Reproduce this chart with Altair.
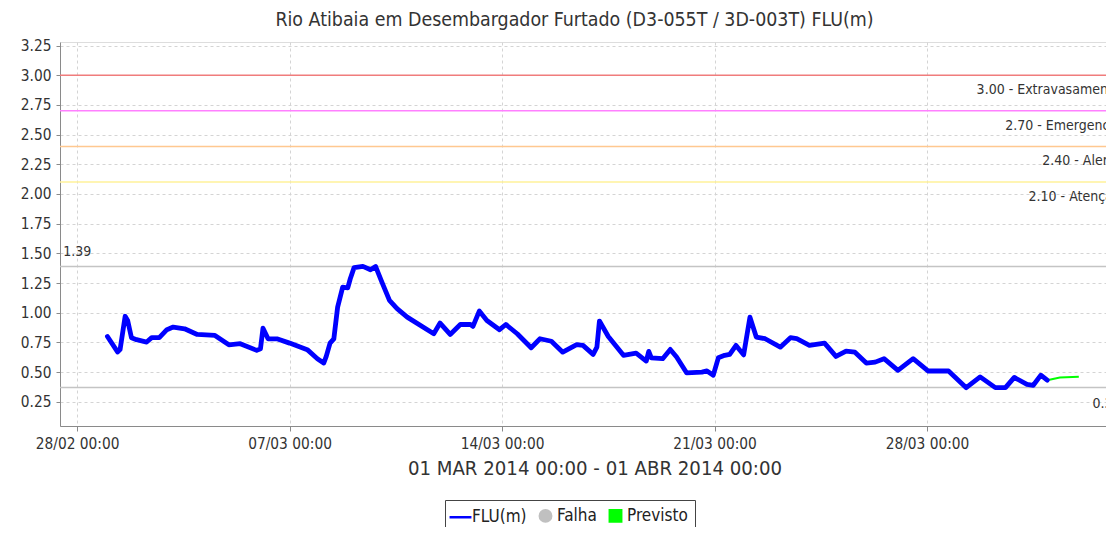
import altair as alt
import pandas as pd

FONT = "DejaVu Sans Condensed, DejaVu Sans"

# ---------------- data ----------------
flu_time = [
    "2014-03-01T00:00", "2014-03-01T08:00", "2014-03-01T10:00", "2014-03-01T14:00", "2014-03-01T16:00",
    "2014-03-01T19:00", "2014-03-01T23:00", "2014-03-02T07:00", "2014-03-02T11:00", "2014-03-02T17:00",
    "2014-03-02T23:00", "2014-03-03T04:00", "2014-03-03T13:00", "2014-03-03T23:00", "2014-03-04T13:00",
    "2014-03-05T00:00", "2014-03-05T09:00", "2014-03-05T22:00", "2014-03-06T01:00", "2014-03-06T03:00",
    "2014-03-06T07:00", "2014-03-06T14:00", "2014-03-07T00:00", "2014-03-07T14:00", "2014-03-07T22:00",
    "2014-03-08T03:00", "2014-03-08T05:00", "2014-03-08T08:00", "2014-03-08T11:00", "2014-03-08T14:00",
    "2014-03-08T18:00", "2014-03-08T22:00", "2014-03-09T00:00", "2014-03-09T03:00", "2014-03-09T10:00",
    "2014-03-09T16:00", "2014-03-09T20:00", "2014-03-10T01:00", "2014-03-10T07:00", "2014-03-10T13:00",
    "2014-03-10T21:00", "2014-03-11T18:00", "2014-03-11T23:00", "2014-03-12T07:00", "2014-03-12T15:00",
    "2014-03-12T23:00", "2014-03-13T01:00", "2014-03-13T06:00", "2014-03-13T12:00", "2014-03-13T22:00",
    "2014-03-14T03:00", "2014-03-14T12:00", "2014-03-14T23:00", "2014-03-15T06:00", "2014-03-15T15:00",
    "2014-03-16T00:00", "2014-03-16T11:00", "2014-03-16T16:00", "2014-03-17T00:00", "2014-03-17T03:00",
    "2014-03-17T05:00", "2014-03-17T12:00", "2014-03-18T00:00", "2014-03-18T10:00", "2014-03-18T18:00",
    "2014-03-18T20:00", "2014-03-18T22:00", "2014-03-19T07:00", "2014-03-19T13:00", "2014-03-19T18:00",
    "2014-03-20T02:00", "2014-03-20T14:00", "2014-03-20T18:00", "2014-03-20T23:00", "2014-03-21T03:00",
    "2014-03-21T08:00", "2014-03-21T12:00", "2014-03-21T17:00", "2014-03-21T23:00", "2014-03-22T04:00",
    "2014-03-22T09:00", "2014-03-22T16:00", "2014-03-23T04:00", "2014-03-23T12:00", "2014-03-23T17:00",
    "2014-03-24T03:00", "2014-03-24T15:00", "2014-03-25T00:00", "2014-03-25T08:00", "2014-03-25T15:00",
    "2014-03-26T00:00", "2014-03-26T07:00", "2014-03-26T14:00", "2014-03-27T01:00", "2014-03-27T13:00",
    "2014-03-28T01:00", "2014-03-28T17:00", "2014-03-29T07:00", "2014-03-29T18:00", "2014-03-30T06:00",
    "2014-03-30T14:00", "2014-03-30T21:00", "2014-03-31T07:00", "2014-03-31T12:00", "2014-03-31T18:00",
    "2014-03-31T23:00",
]
flu_value = [
    0.80, 0.67, 0.69, 0.97, 0.935, 0.79, 0.773, 0.753, 0.79, 0.79,
    0.857, 0.879, 0.865, 0.817, 0.809, 0.73, 0.739, 0.683, 0.697, 0.87,
    0.78, 0.78, 0.744, 0.689, 0.613, 0.576, 0.632, 0.744, 0.78, 1.047,
    1.215, 1.21, 1.286, 1.38, 1.39, 1.362, 1.39, 1.258, 1.104, 1.034,
    0.963, 0.823, 0.913, 0.817, 0.901, 0.901, 0.885, 1.014, 0.935, 0.857,
    0.901, 0.823, 0.705, 0.781, 0.76, 0.668, 0.731, 0.725, 0.649, 0.711,
    0.93, 0.80, 0.641, 0.66, 0.593, 0.674, 0.62, 0.613, 0.691, 0.627,
    0.493, 0.50, 0.51, 0.474, 0.62, 0.641, 0.649, 0.725, 0.645, 0.963,
    0.795, 0.781, 0.71, 0.79, 0.781, 0.725, 0.744, 0.632, 0.677, 0.668,
    0.576, 0.584, 0.613, 0.515, 0.613, 0.509, 0.509, 0.369, 0.46, 0.369,
    0.369, 0.455, 0.397, 0.389, 0.474, 0.432,
]
prev_time = ["2014-03-31T23:00", "2014-04-01T09:00", "2014-04-02T00:00"]
prev_value = [0.432, 0.455, 0.46]

series_names = ["FLU(m)", "Falha", "Previsto"]
series_colors = ["#0000ff", "#c0c0c0", "#00ff00"]

threshold_values = [3.00, 2.70, 2.40, 2.10]
threshold_labels = ["3.00 - Extravasamento", "2.70 - Emergencia", "2.40 - Alerta", "2.10 - Atenção"]
threshold_colors = ["#f07c7c", "#ff80ff", "#ffc890", "#fff29a"]

max_value, max_label = 1.39, "1.39"
min_value, min_label = 0.37, "0.37"

x_ticks = [(2014, 2, 28), (2014, 3, 7), (2014, 3, 14), (2014, 3, 21), (2014, 3, 28)]
y_ticks = [0.25, 0.50, 0.75, 1.00, 1.25, 1.50, 1.75, 2.00, 2.25, 2.50, 2.75, 3.00, 3.25]
right_label_time = "2014-04-03T09:00"
left_label_time = "2014-02-27T13:00"

# ---------------- tables ----------------
flu_df = pd.DataFrame({"t": flu_time, "v": flu_value, "s": "FLU(m)"})
prev_df = pd.DataFrame({"t": prev_time, "v": prev_value, "s": "Previsto"})
thr_df = pd.DataFrame({"v": threshold_values, "label": threshold_labels, "c": threshold_colors,
                       "t": right_label_time})
max_df = pd.DataFrame({"v": [max_value], "label": [max_label], "t": [left_label_time]})
min_df = pd.DataFrame({"v": [min_value], "label": [min_label], "t": [right_label_time]})
ext_df = pd.DataFrame({"v": [max_value, min_value]})

x_scale = alt.Scale(domain=[alt.DateTime(year=2014, month=2, date=27, hours=10, minutes=30),
                            alt.DateTime(year=2014, month=4, date=2, hours=21, minutes=30)])
y_scale = alt.Scale(domain=[0.046, 3.28], nice=False, zero=False)

x_axis = alt.Axis(
    values=[alt.DateTime(year=y, month=m, date=d) for (y, m, d) in x_ticks],
    format="%d/%m %H:%M", labelFont=FONT, labelFontSize=15.3, labelColor="#333",
    title="01 MAR 2014 00:00 - 01 ABR 2014 00:00", titleFont=FONT, titleFontSize=20.2,
    titleFontWeight="normal", titleColor="#333", titlePadding=7, titleX=534.5,
    grid=True, gridDash=[3, 3], gridColor="#d4d4d4", domainColor="#8a8a8a",
    tickColor="#8a8a8a", tickSize=5, labelPadding=5, labelOverlap=False,
)
y_axis = alt.Axis(
    values=y_ticks, format=".2f", labelFont=FONT, labelFontSize=15.3, labelColor="#333",
    title=None, grid=True, gridDash=[3, 3], gridColor="#d4d4d4", domainColor="#8a8a8a",
    tickColor="#8a8a8a", tickSize=4, labelPadding=5, labelOverlap=False, labelBound=False,
)

X = alt.X("t:T", scale=x_scale, axis=x_axis)
Y = alt.Y("v:Q", scale=y_scale, axis=y_axis)

color_scale = alt.Scale(domain=series_names, range=series_colors)
legend = alt.Legend(
    title=None, orient="none", legendX=385, legendY=458, direction="horizontal",
    symbolType=alt.ExprRef("datum.value == 'FLU(m)' ? 'stroke' : (datum.value == 'Falha' ? 'circle' : 'square')"),
    symbolSize=alt.ExprRef("datum.value == 'FLU(m)' ? 480 : 130"),
    symbolFillColor=alt.ExprRef("datum.value == 'FLU(m)' ? 'transparent' : (datum.value == 'Falha' ? '#c0c0c0' : '#00ff00')"),
    symbolStrokeWidth=2.5,
    labelFont=FONT, labelFontSize=17, labelColor="#222", labelOffset=3,
    columnPadding=7, strokeColor="#444", padding=7, fillColor="white",
)

flu_line = alt.Chart(flu_df).mark_line(strokeWidth=4.8, strokeJoin="round", strokeCap="round").encode(
    x=X, y=Y, color=alt.Color("s:N", scale=color_scale, legend=legend)
)
prev_line = alt.Chart(prev_df).mark_line(strokeWidth=2).encode(
    x=X, y=Y, color=alt.Color("s:N", scale=color_scale, legend=legend)
)

thr_rules = alt.Chart(thr_df).mark_rule(strokeWidth=1.5).encode(
    y=Y, stroke=alt.Stroke("c:N", scale=None)
)
thr_text = alt.Chart(thr_df).mark_text(align="right", baseline="middle", dy=15, clip=True,
                                         font=FONT, fontSize=14, color="#333").encode(
    x=X, y=Y, text="label:N"
)
ext_rules = alt.Chart(ext_df).mark_rule(strokeWidth=1.5, color="#c4c4c4").encode(y=Y)
max_text = alt.Chart(max_df).mark_text(align="left", baseline="middle", dy=-14, clip=True,
                                         font=FONT, fontSize=14, color="#333").encode(
    x=X, y=Y, text="label:N"
)
min_text = alt.Chart(min_df).mark_text(align="right", baseline="middle", dy=16, clip=True,
                                         font=FONT, fontSize=14, color="#333").encode(
    x=X, y=Y, text="label:N"
)

chart = alt.layer(
    thr_rules, ext_rules, thr_text, max_text, min_text, prev_line, flu_line
).properties(
    width=1046, height=384,
    title=alt.TitleParams(
        "Rio Atibaia em Desembargador Furtado (D3-055T / 3D-003T) FLU(m)",
        font=FONT, fontSize=19.4, fontWeight="normal", color="#333", anchor="middle",
        dx=-8.5, offset=8,
    ),
    autosize=alt.AutoSizeParams(type="none"),
    padding={"left": 52, "top": 34, "right": 0, "bottom": 101},
).configure_view(stroke="#c8c8c8").configure_axis(labelOverlap=False).configure(background="white")

chart.save("out.html", embed_options={"renderer": "svg", "actions": False})
